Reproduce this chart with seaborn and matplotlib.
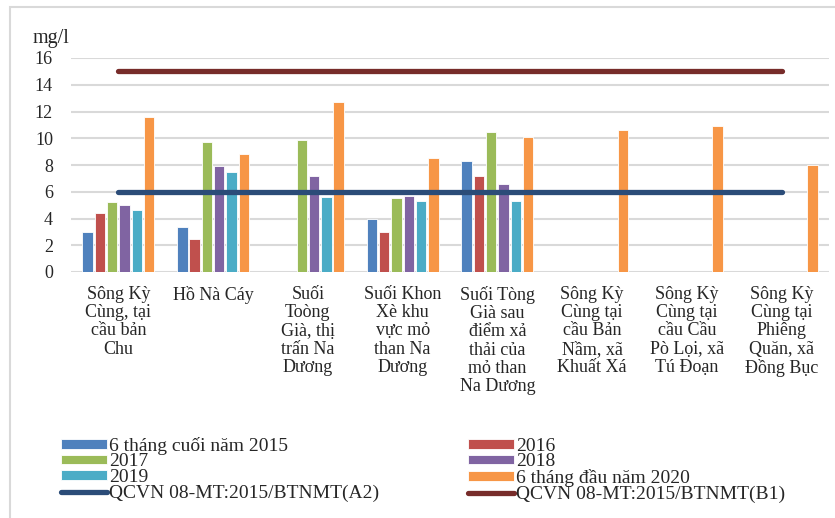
import numpy as np
import pandas as pd
import seaborn as sns
import matplotlib.pyplot as plt
from matplotlib.patches import Rectangle
from matplotlib.lines import Line2D

nan = np.nan

sites = [
    "Sông Kỳ\nCùng, tại\ncầu bản\nChu",
    "Hồ Nà Cáy",
    "Suối\nToòng\nGià, thị\ntrấn Na\nDương",
    "Suối Khon\nXè khu\nvực mỏ\nthan Na\nDương",
    "Suối Tòng\nGià sau\nđiểm xả\nthải của\nmỏ than\nNa Dương",
    "Sông Kỳ\nCùng tại\ncầu Bản\nNầm, xã\nKhuất Xá",
    "Sông Kỳ\nCùng tại\ncầu Cầu\nPò Lọi, xã\nTú Đoạn",
    "Sông Kỳ\nCùng tại\nPhiêng\nQuăn, xã\nĐồng Bục",
]
series = ["6 tháng cuối năm 2015", "2016", "2017", "2018", "2019", "6 tháng đầu năm 2020"]
v2015 = [3.0, 3.4, nan, 4.0, 8.3, nan, nan, nan]
v2016 = [4.4, 2.5, nan, 3.0, 7.2, nan, nan, nan]
v2017 = [5.2, 9.7, 9.9, 5.5, 10.5, nan, nan, nan]
v2018 = [5.0, 7.9, 7.2, 5.7, 6.6, nan, nan, nan]
v2019 = [4.6, 7.5, 5.6, 5.3, 5.3, nan, nan, nan]
v2020 = [11.6, 8.8, 12.7, 8.5, 10.1, 10.6, 10.9, 8.0]
qcvn_a2 = [6, 6, 6, 6, 6, 6, 6, 6]
qcvn_b1 = [15, 15, 15, 15, 15, 15, 15, 15]
line_labels = ["QCVN 08-MT:2015/BTNMT(A2)", "QCVN 08-MT:2015/BTNMT(B1)"]

bar_colors = ["#4F81BD", "#C0504D", "#9BBB59", "#8064A2", "#4BACC6", "#F79646"]
line_colors = ["#2B4C78", "#772C2A"]

rows = []
for name, vals in zip(series, [v2015, v2016, v2017, v2018, v2019, v2020]):
    for site, v in zip(sites, vals):
        rows.append({"site": site, "series": name, "value": v})
df = pd.DataFrame(rows)

sns.set_style("white")
plt.rcParams["font.family"] = ["Liberation Serif", "DejaVu Serif"]

fig = plt.figure(figsize=(8.35, 5.18), dpi=100)
ax = fig.add_axes([71 / 835, 1 - 272 / 518, (829 - 71) / 835, (272 - 58) / 518])

sns.barplot(data=df, x="site", y="value", hue="series", order=sites, hue_order=series,
            palette=bar_colors, saturation=1, width=0.78, gap=0.16, edgecolor="white",
            linewidth=0.6, ax=ax, zorder=2)

xpos = np.arange(len(sites))
ax.plot(xpos, qcvn_a2, color=line_colors[0], lw=3.8, solid_capstyle="round", zorder=3)
ax.plot(xpos, qcvn_b1, color=line_colors[1], lw=3.8, solid_capstyle="round", zorder=3)

ax.set_ylim(0, 16)
ax.set_yticks(range(0, 17, 2))
ax.set_xlim(-0.5, len(sites) - 0.5)
ax.grid(axis="y", color="#d9d9d9", lw=1.5, zorder=0)
ax.set_axisbelow(True)
for s in ax.spines.values():
    s.set_visible(False)
ax.tick_params(axis="both", length=0, labelsize=13)
ax.tick_params(axis="y", pad=13)
ax.tick_params(axis="x", pad=10)
for t in ax.get_xticklabels():
    t.set_multialignment("center")
    t.set_linespacing(1.1)
    t.set_va("top")
ax.set_xlabel("")
ax.set_ylabel("")

fig.text(33 / 835, 1 - 43 / 518, "mg/l", fontsize=14.5, va="baseline", ha="left")

# legend, row-wise order like the original
bh, bl = ax.get_legend_handles_labels()
ax.get_legend().remove()
lh = [Line2D([0], [0], color=c, lw=3.8, solid_capstyle="round") for c in line_colors]
handles = bh + lh
labels = bl + line_labels
order = [0, 2, 4, 6, 1, 3, 5, 7]
fig.legend([handles[i] for i in order], [labels[i] for i in order], ncol=2,
           loc="upper left", bbox_to_anchor=(61 / 835, 1 - 437 / 518), frameon=False,
           fontsize=14, handlelength=2.35, handleheight=0.4, handletextpad=0.1,
           labelspacing=-0.08, columnspacing=4.6, borderpad=0, borderaxespad=0)

fig.add_artist(Rectangle((10 / 835, -0.05), 1.0, 1 - 7 / 518 + 0.05, transform=fig.transFigure,
                         fill=False, edgecolor="#d9d9d9", lw=1.5))

fig.savefig("out.png", dpi=100)
